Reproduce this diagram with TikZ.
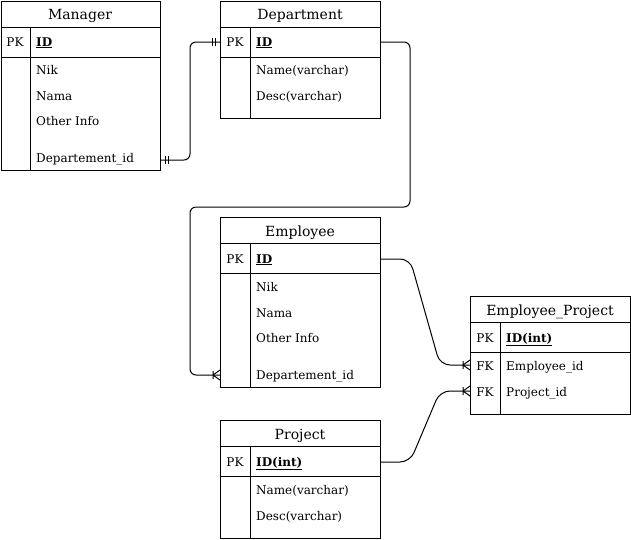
\documentclass[tikz,border=0pt]{standalone}
\usepackage{fontspec}
\setmainfont{DejaVu Serif}
\begin{document}
\begin{tikzpicture}[x=1pt,y=-1pt,
  tbl/.style={draw, line width=1pt, inner sep=0pt, anchor=north west},
  ln/.style={line width=1pt},
  conn/.style={line width=1pt, rounded corners=6pt},
  curv/.style={line width=1pt, rounded corners=10pt},
  ttl/.style={inner sep=0pt, anchor=base, font=\fontsize{14}{16}\selectfont},
  key/.style={inner sep=0pt, anchor=base, font=\fontsize{12}{14}\selectfont},
  fld/.style={inner sep=0pt, anchor=base west, font=\fontsize{12}{14}\selectfont},
  mone/.pic={\draw[line width=1pt] (5,-4)--(5,4) (8,-4)--(8,4);},
  onemany/.pic={\draw[line width=1pt] (7,-4)--(7,4) (7,0)--(0,-5) (7,0)--(0,5);}
]
\useasboundingbox (0,0) rectangle (631,539);
\fill[white] (0,0) rectangle (631,539);

% Manager
\node[tbl, minimum width=159.5pt, minimum height=169.5pt] (mgr) at (0.5,0.5) {};
\draw[ln] (0.5,27) -- (160,27) (0.5,57) -- (160,57) (30,27) -- (30,170);
\node[ttl] (mgrT) at (80,19) {Manager};
\node[key] (mgrPK) at (15,46) {PK};
\node[fld] (mgrID) at (36,46) {\underline{\textbf{ID}}};
\node[fld] (mgrF1) at (36,74) {Nik};
\node[fld] (mgrF2) at (36,100) {Nama};
\node[fld] (mgrF3) at (36,125) {Other Info};
\node[fld] (mgrF4) at (36,162) {Departement\_id};
\coordinate (mgrdep) at (160,160);

% Department
\node[tbl, minimum width=160pt, minimum height=117.5pt] (dep) at (220,0.5) {};
\draw[ln] (220,27) -- (380,27) (220,57) -- (380,57) (250,27) -- (250,118);
\node[ttl] (depT) at (300,19) {Department};
\node[key] (depPK) at (235,46) {PK};
\node[fld] (depID) at (256,46) {\underline{\textbf{ID}}};
\node[fld] (depF1) at (256,74) {Name(varchar)};
\node[fld] (depF2) at (256,100) {Desc(varchar)};
\coordinate (deppkL) at (220,42);
\coordinate (deppkR) at (380,42);

% Employee
\node[tbl, minimum width=160pt, minimum height=170pt] (emp) at (220,217) {};
\draw[ln] (220,243) -- (380,243) (220,273) -- (380,273) (250,243) -- (250,387);
\node[ttl] (empT) at (300,236) {Employee};
\node[key] (empPK) at (235,263) {PK};
\node[fld] (empID) at (256,263) {\underline{\textbf{ID}}};
\node[fld] (empF1) at (256,291) {Nik};
\node[fld] (empF2) at (256,317) {Nama};
\node[fld] (empF3) at (256,342) {Other Info};
\node[fld] (empF4) at (256,379) {Departement\_id};
\coordinate (empid) at (380,259);
\coordinate (empdep) at (220,375);

% Project
\node[tbl, minimum width=160pt, minimum height=118pt] (prj) at (220,420) {};
\draw[ln] (220,446) -- (380,446) (220,476) -- (380,476) (250,446) -- (250,538);
\node[ttl] (prjT) at (300,439) {Project};
\node[key] (prjPK) at (235,466) {PK};
\node[fld] (prjID) at (256,466) {\underline{\textbf{ID(int)}}};
\node[fld] (prjF1) at (256,494) {Name(varchar)};
\node[fld] (prjF2) at (256,520) {Desc(varchar)};
\coordinate (prjid) at (380,462);

% Employee_Project
\node[tbl, minimum width=160pt, minimum height=118pt] (ep) at (470,296) {};
\draw[ln] (470,322) -- (630,322) (470,352) -- (630,352) (500,322) -- (500,414);
\node[ttl] (epT) at (550,315) {Employee\_Project};
\node[key] (epPK) at (485,342) {PK};
\node[fld] (epID) at (506,342) {\underline{\textbf{ID(int)}}};
\node[key] (epFK1) at (485,370) {FK};
\node[fld] (epF1) at (506,370) {Employee\_id};
\node[key] (epFK2) at (485,396) {FK};
\node[fld] (epF2) at (506,396) {Project\_id};
\coordinate (epemp) at (470,365);
\coordinate (epprj) at (470,391);

% connectors
\draw[conn] (mgrdep) -- (190,160) -- (190,42) -- (deppkL);
\pic at (mgrdep) {mone};
\pic[xscale=-1] at (deppkL) {mone};

\draw[conn] (deppkR) -- (410,42) -- (410,207) -- (190,207) -- (190,375) -- (empdep);
\pic[xscale=-1] at (empdep) {onemany};

\draw[curv] (empid) -- (410,259) -- (440,365) -- (epemp);
\pic[xscale=-1] at (epemp) {onemany};

\draw[curv] (prjid) -- (410,462) -- (440,391) -- (epprj);
\pic[xscale=-1] at (epprj) {onemany};
\end{tikzpicture}
\end{document}
